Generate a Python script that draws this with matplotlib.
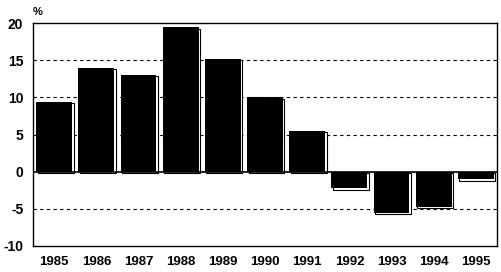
import matplotlib
matplotlib.use("Agg")
import matplotlib.pyplot as plt
from matplotlib.transforms import ScaledTranslation

years = ["1985", "1986", "1987", "1988", "1989", "1990",
         "1991", "1992", "1993", "1994", "1995"]
growth = [9.4, 14.0, 13.05, 19.4, 15.2, 10.0, 5.5, -2.2, -5.5, -4.7, -1.0]
yticks = [-10, -5, 0, 5, 10, 15, 20]

plt.rcParams["font.family"] = ["Liberation Sans", "DejaVu Sans"]
plt.rcParams["font.weight"] = "bold"

fig = plt.figure(figsize=(5.01, 2.72), dpi=100)
ax = fig.add_axes([0.066, 0.0956, 0.926, 0.8198])

x = list(range(len(years)))

# grid behind bars
for v in [-5, 5, 10, 15]:
    ax.axhline(v, color="black", lw=0.8, ls=(0, (3, 3)), zorder=0)
ax.axhline(0, color="black", lw=1.2, zorder=3)

# white shadow with black outline, offset a bit right/down
shadow = ax.bar(x, growth, width=0.85, color="white", edgecolor="black",
                linewidth=0.8, zorder=1)
off = ScaledTranslation(1.5 / 100, -1.5 / 100, fig.dpi_scale_trans)
for p in shadow:
    p.set_transform(ax.transData + off)

ax.bar(x, growth, width=0.85, color="black", edgecolor="black",
       linewidth=0, zorder=2)

ax.set_xlim(-0.5, len(years) - 0.5)
ax.set_ylim(-10, 20)
ax.set_yticks(yticks)
ax.set_yticklabels([str(t) for t in yticks], fontsize=10, fontweight="bold")
ax.set_xticks(x)
ax.set_xticklabels(years, fontsize=9.5, fontweight="bold")
ax.tick_params(axis="y", length=0, pad=7)
ax.tick_params(axis="x", length=0, pad=7)
for s in ax.spines.values():
    s.set_linewidth(1.0)

fig.text(38 / 501, 1 - 12 / 272, "%", fontsize=8, ha="center", va="center")

fig.savefig("out.png", dpi=100)
